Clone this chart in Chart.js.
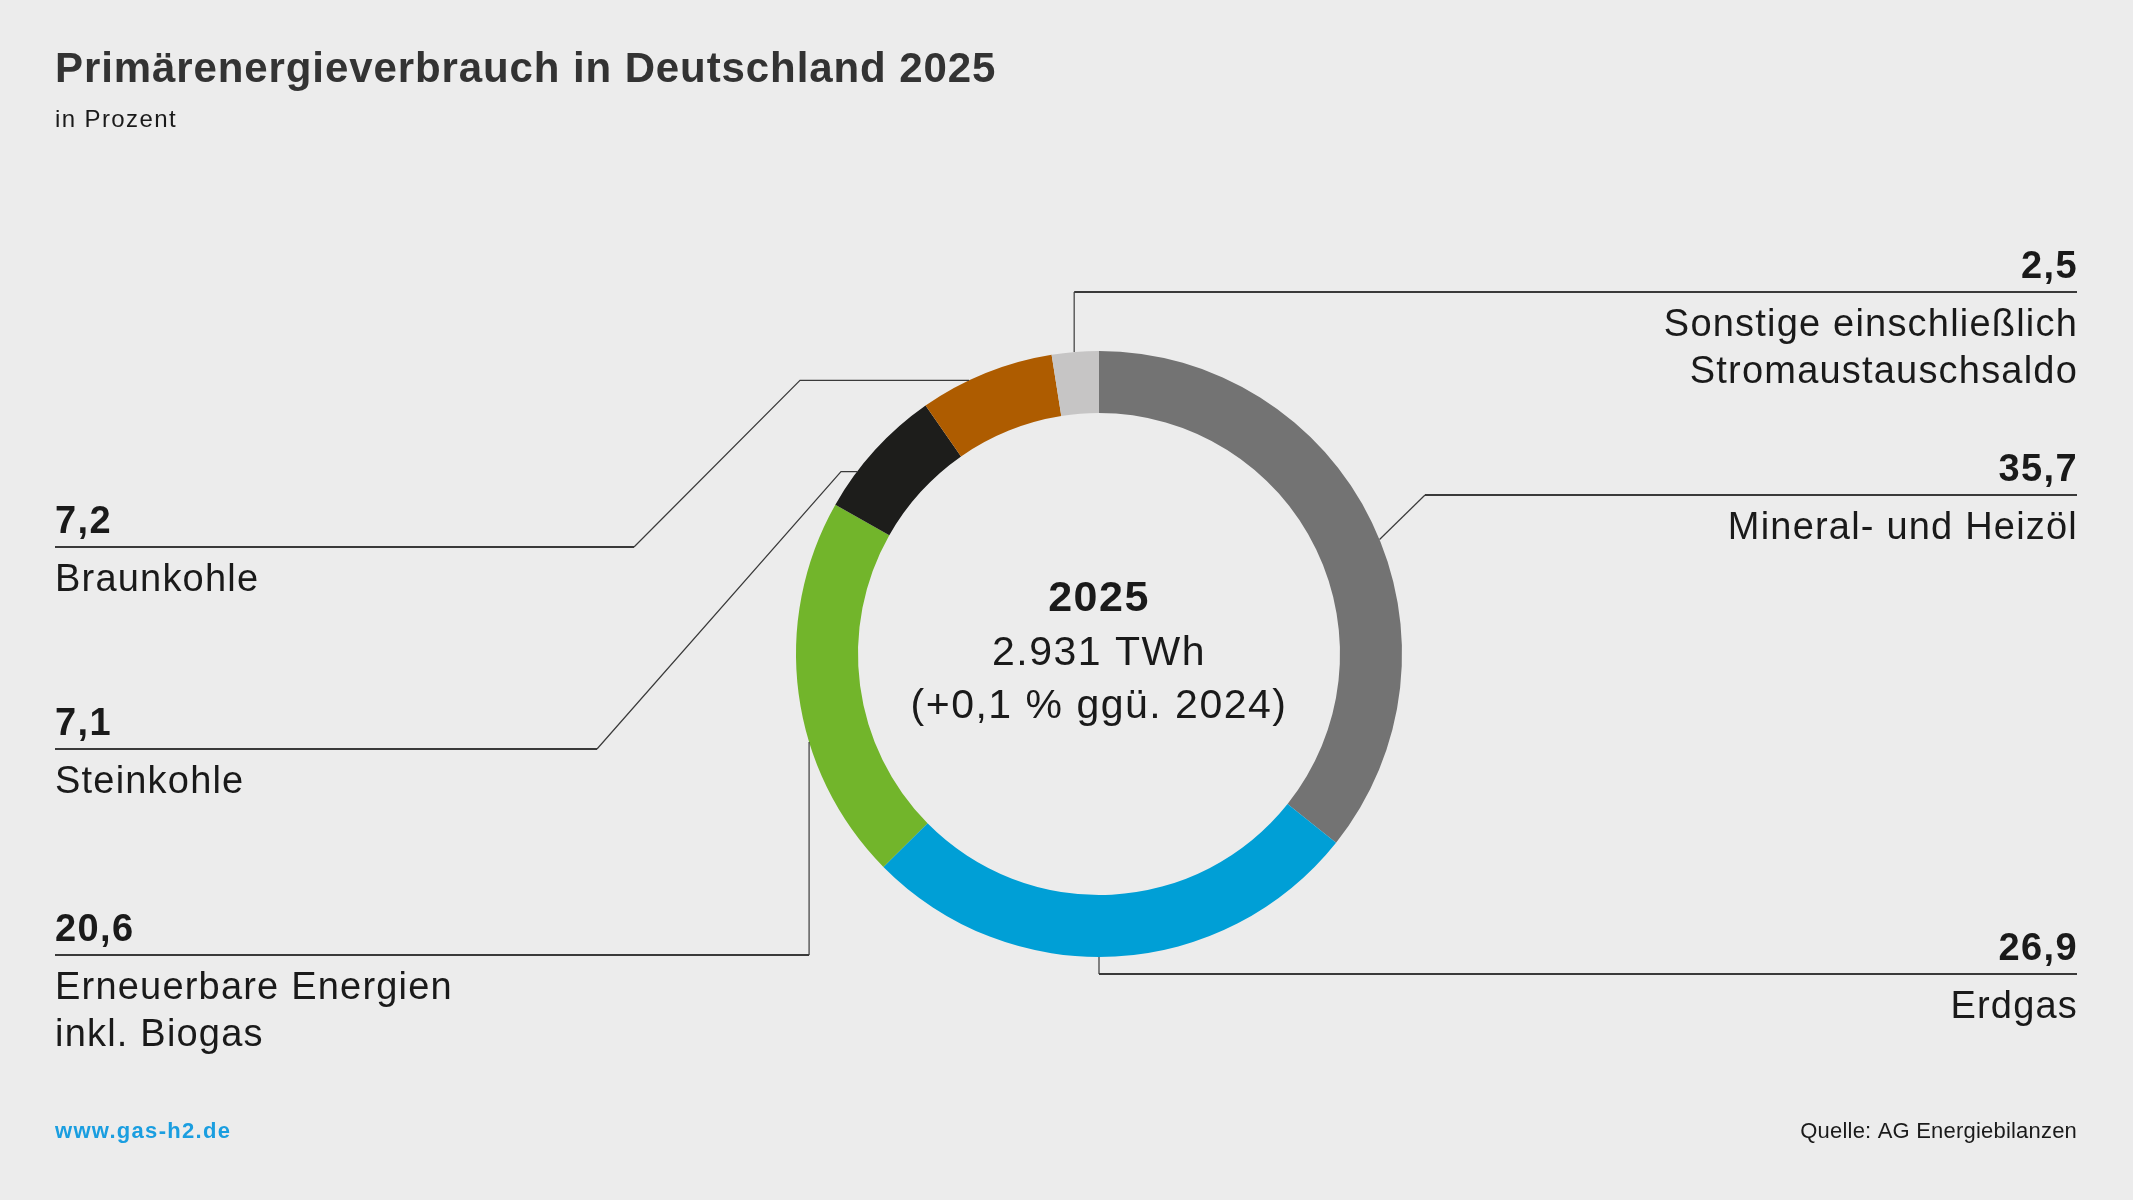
<!DOCTYPE html>
<html lang="de">
<head>
<meta charset="utf-8">
<title>Primärenergieverbrauch in Deutschland 2025</title>
<script src="https://cdn.jsdelivr.net/npm/chart.js@4.4.1/dist/chart.umd.min.js"></script>
<style>
  html, body { margin: 0; padding: 0; background: #ececec; }
  #wrap { width: 2133px; height: 1200px; }
  canvas { display: block; }
</style>
</head>
<body>
<div id="wrap"><canvas id="energyChart" width="2133" height="1200"></canvas></div>
<script>
// Data
const categories = ['Mineral- und Heizöl', 'Erdgas', 'Erneuerbare Energien inkl. Biogas', 'Steinkohle', 'Braunkohle', 'Sonstige einschließlich Stromaustauschsaldo'];
const shares = [35.7, 26.9, 20.6, 7.1, 7.2, 2.5];
const labelLines = [
    ['Mineral- und Heizöl'],
    ['Erdgas'],
    ['Erneuerbare Energien', 'inkl. Biogas'],
    ['Steinkohle'],
    ['Braunkohle'],
    ['Sonstige einschließlich', 'Stromaustauschsaldo']
];
const colors = ['#737373', '#009fd6', '#72b52b', '#1d1d1b', '#ae5c00', '#c6c5c5'];
const centerLines = ['2025', '2.931 TWh', '(+0,1 % ggü. 2024)'];
const titleText = 'Primärenergieverbrauch in Deutschland 2025';
const subtitleText = 'in Prozent';
const footerLeft = 'www.gas-h2.de';
const footerRight = 'Quelle: AG Energiebilanzen';

// Label placement (leader lines): angle is measured clockwise from the top of the ring
const labelLayout = [
    { side: 'right', ruleY: 495, ruleEnd: 1425, angle: 67.8 },
    { side: 'right', ruleY: 974, angle: 180 },
    { side: 'left', ruleY: 955, angle: 253.1 },
    { side: 'left', ruleY: 749, ruleEnd: 597, elbowX: 841, angle: 307 },
    { side: 'left', ruleY: 547, ruleEnd: 634, elbowX: 800, angle: 334.6 },
    { side: 'right', ruleY: 292, angle: 355.3 }
];

const FONT = '"Liberation Sans", Arial, Helvetica, sans-serif';
const LEFT_X = 55;
const RIGHT_X = 2077;

const setText = (ctx, size, weight, spacing, color, align) => {
    ctx.font = `${weight} ${size}px ${FONT}`;
    ctx.letterSpacing = `${spacing}px`;
    ctx.fillStyle = color;
    ctx.textAlign = align;
    ctx.textBaseline = 'alphabetic';
};

const formatDe = (v) => v.toLocaleString('de-DE', { minimumFractionDigits: 1, maximumFractionDigits: 1 });

const backgroundPlugin = {
    id: 'pageBackground',
    beforeDraw(chart) {
        const { ctx, width, height } = chart;
        ctx.save();
        ctx.fillStyle = '#ececec';
        ctx.fillRect(0, 0, width, height);
        ctx.restore();
    }
};

const labelPlugin = {
    id: 'energyLabels',
    afterDraw(chart) {
        const ctx = chart.ctx;
        const meta = chart.getDatasetMeta(0);
        const first = meta.data[0];
        const cx = first.x;
        const cy = first.y;
        const r = first.outerRadius;

        ctx.save();

        // Heading
        setText(ctx, 42, 'bold', 0.9, '#333333', 'left');
        ctx.fillText(titleText, LEFT_X, 82);
        setText(ctx, 24, 'normal', 1.4, '#1a1a1a', 'left');
        ctx.fillText(subtitleText, LEFT_X, 127);

        // Centre text
        setText(ctx, 43, 'bold', 1.5, '#1a1a1a', 'center');
        ctx.fillText(centerLines[0], cx, 611);
        setText(ctx, 41, 'normal', 1.5, '#1a1a1a', 'center');
        ctx.fillText(centerLines[1], cx, 665);
        ctx.fillText(centerLines[2], cx, 718);

        // Labels and leader lines
        labelLayout.forEach((lay, i) => {
            const rad = lay.angle * Math.PI / 180;
            const ax = cx + r * Math.sin(rad);
            const ay = cy - r * Math.cos(rad);
            const isRight = lay.side === 'right';
            const startX = isRight ? RIGHT_X : LEFT_X;
            const ruleEnd = lay.ruleEnd !== undefined ? lay.ruleEnd : ax;

            ctx.strokeStyle = '#3a3a3a';
            ctx.lineWidth = 1.8;
            ctx.beginPath();
            ctx.moveTo(startX, lay.ruleY);
            ctx.lineTo(ruleEnd, lay.ruleY);
            ctx.stroke();

            ctx.lineWidth = 1.2;
            ctx.beginPath();
            ctx.moveTo(ruleEnd, lay.ruleY);
            if (lay.elbowX !== undefined) {
                ctx.lineTo(lay.elbowX, ay);
            }
            ctx.lineTo(ax, ay);
            ctx.stroke();

            const align = isRight ? 'right' : 'left';
            const tx = isRight ? RIGHT_X + 1 : LEFT_X;
            setText(ctx, 38, 'bold', 1.4, '#1a1a1a', align);
            ctx.fillText(formatDe(shares[i]), tx, lay.ruleY - 14);
            setText(ctx, 38, 'normal', 1.2, '#1a1a1a', align);
            labelLines[i].forEach((line, j) => {
                ctx.fillText(line, tx, lay.ruleY + 44 + j * 47);
            });
        });

        // Footer
        setText(ctx, 22, 'bold', 1.3, '#1a9ee0', 'left');
        ctx.fillText(footerLeft, LEFT_X, 1138);
        setText(ctx, 22, 'normal', 0.2, '#1a1a1a', 'right');
        ctx.fillText(footerRight, RIGHT_X, 1138);

        ctx.restore();
    }
};

const canvas = document.getElementById('energyChart');

const chartEnergy = new Chart(canvas, {
    type: 'doughnut',
    data: {
        labels: categories,
        datasets: [
            {
                data: shares,
                backgroundColor: colors,
                borderWidth: 0,
                hoverOffset: 0
            }
        ]
    },
    options: {
        responsive: false,
        animation: false,
        events: [],
        radius: 303,
        cutout: 241,
        layout: {
            padding: { left: 796, right: 731, top: 351, bottom: 243 }
        },
        plugins: {
            legend: { display: false },
            tooltip: { enabled: false }
        }
    },
    plugins: [backgroundPlugin, labelPlugin]
});
</script>
</body>
</html>
